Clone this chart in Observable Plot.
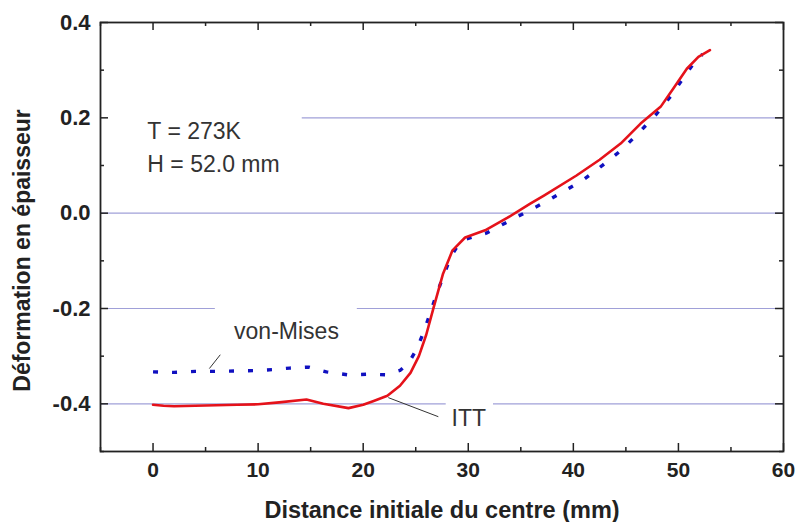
<!DOCTYPE html>
<html><head><meta charset="utf-8">
<script src="https://cdn.jsdelivr.net/npm/d3@7"></script>
<script src="https://cdn.jsdelivr.net/npm/@observablehq/plot@0.6"></script>
<style>body{margin:0;background:#fff;}</style>
</head><body><div id="chart"></div>
<script>
// ITT (solid red)
const ittX = [0, 1, 2, 4, 6, 8, 10, 12, 14.6, 16.2, 18.6, 20, 21, 22.3, 23.5, 24.5, 25.3, 26, 26.7, 27.6, 28.5, 29.7, 31.6, 33.7, 35.9, 37.2, 40.3, 42.5, 44.5, 46.4, 48.3, 49.5, 50.8, 51.9, 53];
const ittY = [-0.402, -0.404, -0.405, -0.404, -0.403, -0.402, -0.401, -0.397, -0.391, -0.400, -0.409, -0.402, -0.394, -0.383, -0.362, -0.335, -0.300, -0.255, -0.198, -0.127, -0.078, -0.051, -0.036, -0.010, 0.020, 0.037, 0.079, 0.112, 0.146, 0.188, 0.223, 0.261, 0.303, 0.328, 0.342];
// von-Mises (dotted blue)
const vmX = [0, 2, 4, 6, 8, 10, 11.5, 13, 14.8, 16.5, 18.5, 20.4, 22.1, 23.5, 24.3, 25.05, 25.75, 26.4, 27, 27.65, 28.35, 29.0, 29.8, 31.7, 33.5, 35.4, 37.3, 39.1, 40.9, 42.7, 44.55, 46.3, 47.95, 49.4, 50.6, 51.9, 52.3];
const vmY = [-0.333, -0.334, -0.332, -0.332, -0.331, -0.330, -0.328, -0.325, -0.323, -0.333, -0.339, -0.338, -0.339, -0.330, -0.315, -0.287, -0.250, -0.208, -0.169, -0.131, -0.091, -0.068, -0.054, -0.042, -0.021, 0.001, 0.023, 0.046, 0.069, 0.099, 0.132, 0.170, 0.209, 0.249, 0.288, 0.328, 0.333];

const xTicks = [0, 10, 20, 30, 40, 50, 60];
const xMinor = [-5, 5, 15, 25, 35, 45, 55];
const yTicks = [-0.4, -0.2, 0.0, 0.2, 0.4];
const yMinor = [-0.5, -0.3, -0.1, 0.1, 0.3];
const gridY = [-0.4, -0.2, 0.0, 0.2];
const xLabel = "Distance initiale du centre (mm)";
const yLabel = "Déformation en épaisseur";

const infoText = ["T = 273K", "H = 52.0 mm"];
const infoX = [-0.54, -0.54];
const infoY = [0.172, 0.102];
const seriesText = ["von-Mises", "ITT"];
const seriesTextX = [12.7, 30.05];
const seriesTextY = [-0.249, -0.432];
// white background boxes of the three text annotations (data units)
const boxX1 = [-5, 5.93, 27.9];
const boxX2 = [14.2, 19.44, 32.4];
const boxY1 = [0.09, -0.28, -0.45];
const boxY2 = [0.21, -0.19, -0.39];
const leaderX1 = [5.36, 22.39], leaderY1 = [-0.326, -0.387];
const leaderX2 = [6.40, 27.15], leaderY2 = [-0.297, -0.427];

const itt = ittX.map((x, i) => ({x, y: ittY[i]}));
const vm = vmX.map((x, i) => ({x, y: vmY[i]}));
const info = infoText.map((t, i) => ({t, x: infoX[i], y: infoY[i]}));
const labels = seriesText.map((t, i) => ({t, x: seriesTextX[i], y: seriesTextY[i]}));
const boxes = boxX1.map((x1, i) => ({x1, x2: boxX2[i], y1: boxY1[i], y2: boxY2[i]}));
const leaders = leaderX1.map((x, i) => ({x1: x, y1: leaderY1[i], x2: leaderX2[i], y2: leaderY2[i]}));

const W = 796, H = 522, mL = 100, mR = 13, mT = 22, mB = 71;
const iw = W - mL - mR, ih = H - mT - mB;
const ink = "#222";

const chart = Plot.plot({
  width: W, height: H,
  marginLeft: mL, marginRight: mR, marginTop: mT, marginBottom: mB,
  style: {fontFamily: "'Liberation Sans', Arial, sans-serif", background: "white", color: ink},
  x: {domain: [-5, 60]},
  y: {domain: [-0.5, 0.4]},
  marks: [
    Plot.ruleY(gridY, {stroke: "#a0a0d8", strokeWidth: 1.2}),
    Plot.rect(boxes, {x1: "x1", x2: "x2", y1: "y1", y2: "y2", fill: "white"}),
    Plot.text(info, {x: "x", y: "y", text: "t", textAnchor: "start", lineAnchor: "middle", fontSize: 23, fill: "#333"}),
    Plot.text(labels, {x: "x", y: "y", text: "t", lineAnchor: "middle", fontSize: 23, fill: "#333"}),
    Plot.line(vm, {x: "x", y: "y", stroke: "#1010c0", strokeWidth: 3.4, strokeDasharray: "5,14", strokeLinecap: "butt"}),
    Plot.line(itt, {x: "x", y: "y", stroke: "#e5121a", strokeWidth: 2.6}),
    Plot.link(leaders, {x1: "x1", y1: "y1", x2: "x2", y2: "y2", stroke: "#333", strokeWidth: 1}),
    Plot.ruleX(xTicks, {insetTop: ih - 8, stroke: ink, strokeWidth: 1.5}),
    Plot.ruleX(xTicks, {insetBottom: ih - 8, stroke: ink, strokeWidth: 1.5}),
    Plot.ruleX(xMinor, {insetTop: ih - 4, stroke: ink, strokeWidth: 1.5}),
    Plot.ruleX(xMinor, {insetBottom: ih - 4, stroke: ink, strokeWidth: 1.5}),
    Plot.ruleY(yTicks, {insetRight: iw - 8, stroke: ink, strokeWidth: 1.5}),
    Plot.ruleY(yTicks, {insetLeft: iw - 8, stroke: ink, strokeWidth: 1.5}),
    Plot.ruleY(yMinor, {insetRight: iw - 4, stroke: ink, strokeWidth: 1.5}),
    Plot.ruleY(yMinor, {insetLeft: iw - 4, stroke: ink, strokeWidth: 1.5}),
    Plot.frame({stroke: ink, strokeWidth: 1.8}),
    Plot.axisX(xTicks, {tickSize: 0, tickPadding: 11, fontSize: 21, fontWeight: "bold", label: null, tickFormat: d => String(d), fill: ink}),
    Plot.axisY(yTicks, {tickSize: 0, tickPadding: 10, fontSize: 22, fontWeight: "bold", label: null, tickFormat: d => d.toFixed(1), fill: ink}),
    Plot.text([xLabel], {frameAnchor: "bottom", textAnchor: "middle", lineAnchor: "bottom", dy: 66, fontSize: 23.5, fontWeight: "bold", fill: ink}),
    Plot.text([yLabel], {frameAnchor: "left", textAnchor: "middle", rotate: -90, lineAnchor: "middle", dx: -78, dy: 13.5, fontSize: 23, fontWeight: "bold", fill: ink})
  ]
});
document.getElementById("chart").appendChild(chart);
</script>
</body></html>
